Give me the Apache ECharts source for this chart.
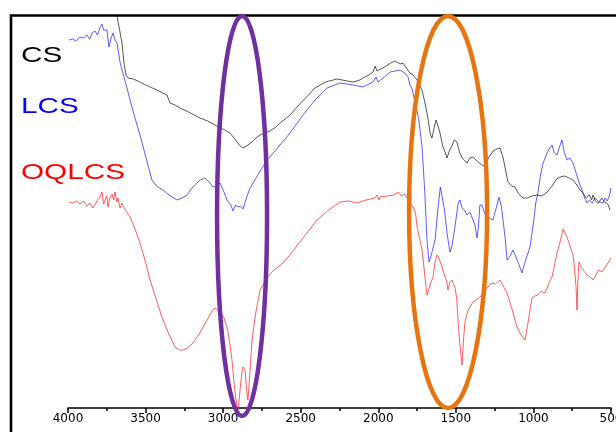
<!DOCTYPE html>
<html>
<head>
<meta charset="utf-8">
<script src="https://cdn.jsdelivr.net/npm/echarts@6/dist/echarts.min.js"></script>
<style>html,body{margin:0;padding:0;background:#fff}#c{width:616px;height:432px}</style>
</head>
<body>
<div id="c"></div>
<script>
// Wavenumber (cm-1) vs. relative transmittance (arbitrary units)
const seriesNames = ['CS', 'LCS', 'OQLCS'];
const csPoints = [
  [3684,392],[3652,365],[3639,345],[3626,333],[3613,330],[3580,329],[3536,326],[3500,323],[3471,321],[3426,318],
  [3390,315],[3362,313],[3343,305],[3310,303],[3278,300],[3210,295],[3149,290],[3100,287],[3040,282],[2990,278],
  [2956,275],[2930,270],[2911,266],[2890,262],[2872,260],[2840,263],[2814,266],[2790,270],[2762,273],[2730,275],
  [2698,277],[2660,281],[2633,285],[2600,289],[2569,293],[2500,305],[2450,313],[2408,320],[2340,326],[2266,329],
  [2200,327],[2163,326],[2120,328],[2099,330],[2060,333],[2034,336],[2021,342],[2008,337],[1960,341],[1920,345],
  [1892,347],[1860,344],[1841,345],[1810,338],[1796,335],[1776,333],[1750,328],[1731,322],[1718,318],[1699,305],
  [1680,290],[1665,274],[1654,270],[1640,280],[1628,288],[1615,282],[1602,275],[1585,262],[1570,256],[1557,250],
  [1540,258],[1525,262],[1510,268],[1493,266],[1475,255],[1460,250],[1445,248],[1428,245],[1410,250],[1389,251],
  [1370,248],[1350,245],[1330,243],[1312,241],[1290,250],[1260,257],[1235,259],[1215,260],[1195,250],[1180,238],
  [1164,226],[1140,222],[1119,221],[1095,214],[1067,210],[1040,210],[1010,212],[977,213],[945,212],[912,216],
  [880,222],[850,229],[829,231],[800,232],[770,230],[745,228],[720,223],[700,218],[680,215],[660,210],
  [640,213],[625,208],[616,213],[600,207],[580,205],[560,210],[540,206],[520,204],[506,198]
];
const lcsPoints = [
  [3994,368],[3970,369],[3950,367],[3923,371],[3900,370],[3878,373],[3860,369],[3845,375],[3826,377],[3810,373],
  [3795,380],[3781,384],[3770,378],[3762,380],[3749,378],[3736,361],[3722,370],[3710,375],[3697,368],[3684,365],
  [3665,346],[3652,338],[3639,331],[3620,320],[3600,308],[3570,291],[3536,273],[3500,252],[3459,228],[3430,222],
  [3388,218],[3340,212],[3297,208],[3265,210],[3233,213],[3190,222],[3149,228],[3117,230],[3090,226],[3065,221],
  [3040,222],[3020,225],[3000,218],[2975,208],[2950,203],[2936,197],[2920,203],[2904,201],[2888,202],[2872,199],
  [2850,210],[2827,220],[2780,232],[2717,248],[2650,260],[2569,275],[2490,292],[2408,308],[2330,320],[2247,325],
  [2200,324],[2163,323],[2130,322],[2099,321],[2060,324],[2034,326],[2015,331],[2002,326],[1960,331],[1924,336],
  [1890,337],[1860,338],[1830,335],[1808,331],[1796,323],[1780,318],[1763,305],[1740,290],[1718,261],[1700,215],
  [1686,168],[1673,146],[1660,152],[1634,168],[1615,200],[1600,221],[1589,221],[1575,200],[1557,175],[1538,156],
  [1525,162],[1506,181],[1485,205],[1473,208],[1460,200],[1445,198],[1428,193],[1410,196],[1389,188],[1375,182],
  [1364,170],[1355,180],[1345,203],[1332,203],[1315,195],[1299,188],[1280,190],[1261,188],[1240,200],[1222,211],
  [1205,200],[1183,171],[1170,148],[1150,152],[1132,158],[1110,150],[1090,142],[1074,135],[1050,148],[1022,161],
  [1000,185],[985,205],[971,215],[955,232],[940,244],[925,250],[912,255],[895,260],[880,263],[865,255],
  [848,253],[830,262],[816,268],[800,255],[784,248],[765,250],[745,245],[725,235],[705,225],[687,218],
  [670,210],[655,205],[640,208],[620,205],[605,210],[590,208],[575,206],[552,205],[540,210],[525,207],
  [510,212],[500,220]
];
const oqlcsPoints = [
  [3994,206],[3970,205],[3945,207],[3923,204],[3900,207],[3880,202],[3858,205],[3840,200],[3826,203],[3810,208],
  [3794,211],[3781,216],[3770,204],[3762,208],[3750,212],[3742,201],[3730,210],[3716,214],[3705,208],[3697,216],
  [3685,206],[3678,210],[3665,200],[3652,205],[3630,198],[3600,191],[3570,180],[3536,165],[3500,146],[3471,128],
  [3430,108],[3388,88],[3350,74],[3310,61],[3280,58],[3259,58],[3230,60],[3194,65],[3150,75],[3104,88],
  [3075,96],[3052,100],[3035,98],[3020,95],[3005,93],[2994,90],[2985,85],[2975,81],[2960,68],[2943,48],
  [2930,25],[2917,8],[2904,-2],[2897,8],[2891,18],[2880,35],[2872,41],[2865,40],[2859,38],[2850,20],
  [2840,8],[2830,30],[2814,68],[2790,95],[2762,118],[2740,124],[2717,130],[2680,137],[2614,145],[2560,155],
  [2505,166],[2450,177],[2395,188],[2320,198],[2247,206],[2190,207],[2137,205],[2080,208],[2021,210],[2008,213],
  [1995,208],[1989,211],[1940,212],[1900,213],[1873,216],[1850,212],[1830,214],[1815,210],[1795,206],[1776,201],
  [1760,195],[1750,181],[1735,170],[1718,158],[1705,140],[1695,125],[1686,113],[1675,118],[1660,126],[1647,131],
  [1635,145],[1622,153],[1610,150],[1600,146],[1589,145],[1575,134],[1557,125],[1551,118],[1538,126],[1525,128],
  [1515,124],[1506,121],[1495,110],[1486,88],[1475,65],[1460,43],[1450,70],[1441,86],[1425,96],[1409,101],
  [1390,106],[1370,108],[1344,111],[1320,116],[1299,120],[1270,125],[1245,124],[1215,128],[1195,122],[1170,115],
  [1140,100],[1106,81],[1080,73],[1054,68],[1035,85],[1020,100],[1009,110],[990,112],[971,113],[950,117],
  [925,115],[900,125],[880,131],[865,142],[848,155],[830,165],[809,179],[790,173],[777,168],[760,160],
  [745,153],[735,140],[725,120],[719,98],[713,130],[706,146],[690,140],[670,136],[655,133],[635,131],
  [616,128],[600,132],[580,138],[558,136],[540,140],[520,145],[500,150]
];
// Highlighted band centres (cm-1)
const highlightCenters = [2878, 1550];

const chart = echarts.init(document.getElementById('c'), null, {renderer: 'canvas'});
const lineColors = ['#222222', '#2a2aff', '#ff2a2a'];
const option = {
  animation: false,
  backgroundColor: '#ffffff',
  grid: {left: 68, right: 5, top: 15, bottom: 24, containLabel: false, outerBoundsMode: 'none'},
  xAxis: {
    type: 'value', inverse: true, min: 500, max: 4000, interval: 500,
    axisLine: {show: true, lineStyle: {color: '#000', width: 1.5}},
    axisTick: {show: true, length: 5, lineStyle: {color: '#000', width: 1.5}},
    minorTick: {show: true, splitNumber: 2, length: 3, lineStyle: {color: '#000', width: 1.5}},
    splitLine: {show: false},
    axisLabel: {color: '#000', fontSize: 12, fontFamily: 'DejaVu Sans', margin: 5, showMaxLabel: true, showMinLabel: true,
      hideOverlap: false, formatter: v => String(v)}
  },
  yAxis: {
    type: 'value', min: 0, max: 393, show: false, splitLine: {show: false}
  },
  series: [csPoints, lcsPoints, oqlcsPoints].map((d, i) => ({
    name: seriesNames[i], type: 'line', data: d, showSymbol: false, symbol: 'none',
    clip: i !== 2,
    lineStyle: {color: lineColors[i], width: 0.9, opacity: 0.85},
    z: 3 - i
  }))
};
chart.setOption(option);

const labelY = [56, 106.5, 172.5];
const graphics = [];
// plot frame (top and left borders)
graphics.push({type: 'polyline', shape: {points: [[11, 432], [11, 15.5], [616, 15.5]]},
  style: {stroke: '#000', lineWidth: 2.6, fill: null}, z: 10});
seriesNames.forEach((n, i) => {
  graphics.push({type: 'text', x: 21, y: labelY[i], scaleX: 1.35, z: 10,
    style: {text: n, fill: ['#000', '#0000ff', '#ff0000'][i], font: '22px "Liberation Sans", Arial, sans-serif', verticalAlign: 'middle', textAlign: 'left'}});
});
const ellipseStyle = [{rx: 25, ry: 200, cyPx: 216, color: '#7030a0'}, {rx: 39, ry: 196, cyPx: 212, color: '#e8740f'}];
highlightCenters.forEach((w, i) => {
  const p = chart.convertToPixel({xAxisIndex: 0, yAxisIndex: 0}, [w, 0]);
  const s = ellipseStyle[i];
  graphics.push({type: 'ellipse', shape: {cx: p[0], cy: s.cyPx, rx: s.rx, ry: s.ry},
    style: {stroke: s.color, lineWidth: 4.5, fill: null}, z: 20});
});
chart.setOption({graphic: graphics});
</script>
</body>
</html>
